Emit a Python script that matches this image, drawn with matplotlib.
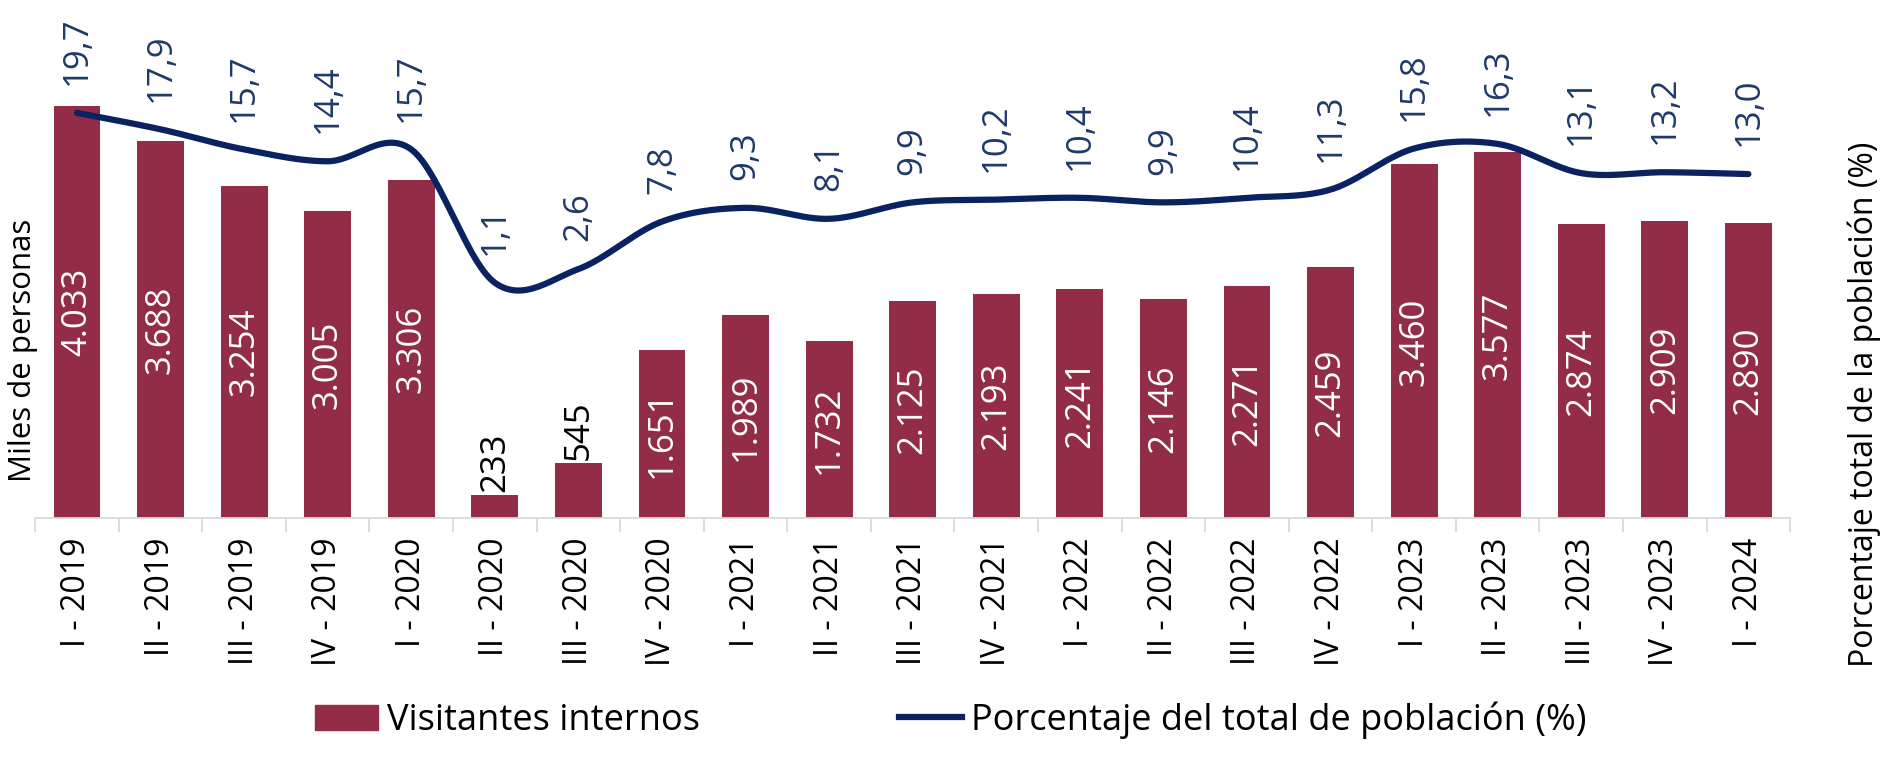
import numpy as np
import matplotlib
matplotlib.use("Agg")
import matplotlib.pyplot as plt

plt.rcParams['font.family'] = ['Open Sans', 'DejaVu Sans']

# datos
trimestres = ['I - 2019', 'II - 2019', 'III - 2019', 'IV - 2019',
              'I - 2020', 'II - 2020', 'III - 2020', 'IV - 2020',
              'I - 2021', 'II - 2021', 'III - 2021', 'IV - 2021',
              'I - 2022', 'II - 2022', 'III - 2022', 'IV - 2022',
              'I - 2023', 'II - 2023', 'III - 2023', 'IV - 2023',
              'I - 2024']
visitantes = [4033, 3688, 3254, 3005, 3306, 233, 545, 1651, 1989, 1732,
              2125, 2193, 2241, 2146, 2271, 2459, 3460, 3577, 2874, 2909, 2890]
porcentaje = [19.7, 17.9, 15.7, 14.4, 15.7, 1.1, 2.6, 7.8, 9.3, 8.1,
              9.9, 10.2, 10.4, 9.9, 10.4, 11.3, 15.8, 16.3, 13.1, 13.2, 13.0]

c_barra = '#932C46'
c_linea = '#0B2262'
c_etiq = '#1F3A68'


def fmt_miles(v):
    return f'{v:,}'.replace(',', '.')


def suavizar(x, y, n=30):
    # curva suavizada tipo Excel (Catmull-Rom / Bezier)
    x = np.asarray(x, float)
    y = np.asarray(y, float)
    px = np.concatenate([[x[0]], x, [x[-1]]])
    py = np.concatenate([[y[0]], y, [y[-1]]])
    xs, ys = [], []
    t = np.linspace(0, 1, n)
    for i in range(1, len(px) - 2):
        p0 = np.array([px[i], py[i]])
        p3 = np.array([px[i + 1], py[i + 1]])
        c1 = p0 + (np.array([px[i + 1], py[i + 1]]) - np.array([px[i - 1], py[i - 1]])) / 6
        c2 = p3 - (np.array([px[i + 2], py[i + 2]]) - np.array([px[i], py[i]])) / 6
        b = ((1 - t) ** 3)[:, None] * p0 + (3 * (1 - t) ** 2 * t)[:, None] * c1 \
            + (3 * (1 - t) * t ** 2)[:, None] * c2 + (t ** 3)[:, None] * p3
        xs.append(b[:, 0])
        ys.append(b[:, 1])
    return np.concatenate(xs), np.concatenate(ys)


fig = plt.figure(figsize=(18.83, 7.68), dpi=100)
ax = fig.add_axes([0.0187, 0.325, 0.932, 0.666])
x = np.arange(len(trimestres))

ax.bar(x, visitantes, width=0.56, color=c_barra, zorder=2)
ax.set_ylim(0, 5000)
ax.set_xlim(-0.5, len(x) - 0.5)

for xi, v in zip(x, visitantes):
    if v < 1000:
        ax.annotate(fmt_miles(v), (xi, v), xytext=(0, 2), textcoords='offset points',
                    rotation=90, ha='center', va='bottom', fontsize=25, color='black')
    else:
        ax.text(xi, v / 2, fmt_miles(v), rotation=90, ha='center', va='center',
                fontsize=25, color='white')

ax.set_xticks(x)
ax.set_xticklabels(trimestres, rotation=90, fontsize=23)
ax.set_xticks(np.arange(len(x) + 1) - 0.5, minor=True)
ax.tick_params(axis='x', which='major', length=0, pad=14)
ax.tick_params(axis='x', which='minor', length=10, color='#D9D9D9', width=1.3)
ax.set_yticks([])
for s in ['top', 'left', 'right']:
    ax.spines[s].set_visible(False)
ax.spines['bottom'].set_color('#D9D9D9')
ax.spines['bottom'].set_linewidth(1.3)

ax2 = ax.twinx()
ax2.set_ylim(-24.7, 31.3)
sx, sy = suavizar(x, porcentaje)
ax2.plot(sx, sy, color=c_linea, lw=4.5, solid_capstyle='round', zorder=3)
for xi, p in zip(x, porcentaje):
    ax2.annotate(f'{p:.1f}'.replace('.', ','), (xi, p), xytext=(0, 20),
                 textcoords='offset points', rotation=90, ha='center', va='bottom',
                 fontsize=25, color=c_etiq)
ax2.set_yticks([])
for s in ['top', 'left', 'right', 'bottom']:
    ax2.spines[s].set_visible(False)

fig.text(0.012, 0.544, 'Miles de personas', rotation=90, ha='center', va='center', fontsize=22.5)
fig.text(0.99, 0.473, 'Porcentaje total de la población (%)', rotation=90,
         ha='center', va='center', fontsize=23)

h1 = plt.Rectangle((0, 0), 1, 1, color=c_barra)
h2 = plt.Line2D([], [], color=c_linea, lw=4.5)
fig.legend([h1, h2], ['Visitantes internos', 'Porcentaje del total de población (%)'],
           loc='center', bbox_to_anchor=(0.505, 0.062), ncol=2, frameon=False,
           fontsize=26, handlelength=1.75, handletextpad=0.25, columnspacing=5.5)

fig.savefig('out.png', dpi=100)
